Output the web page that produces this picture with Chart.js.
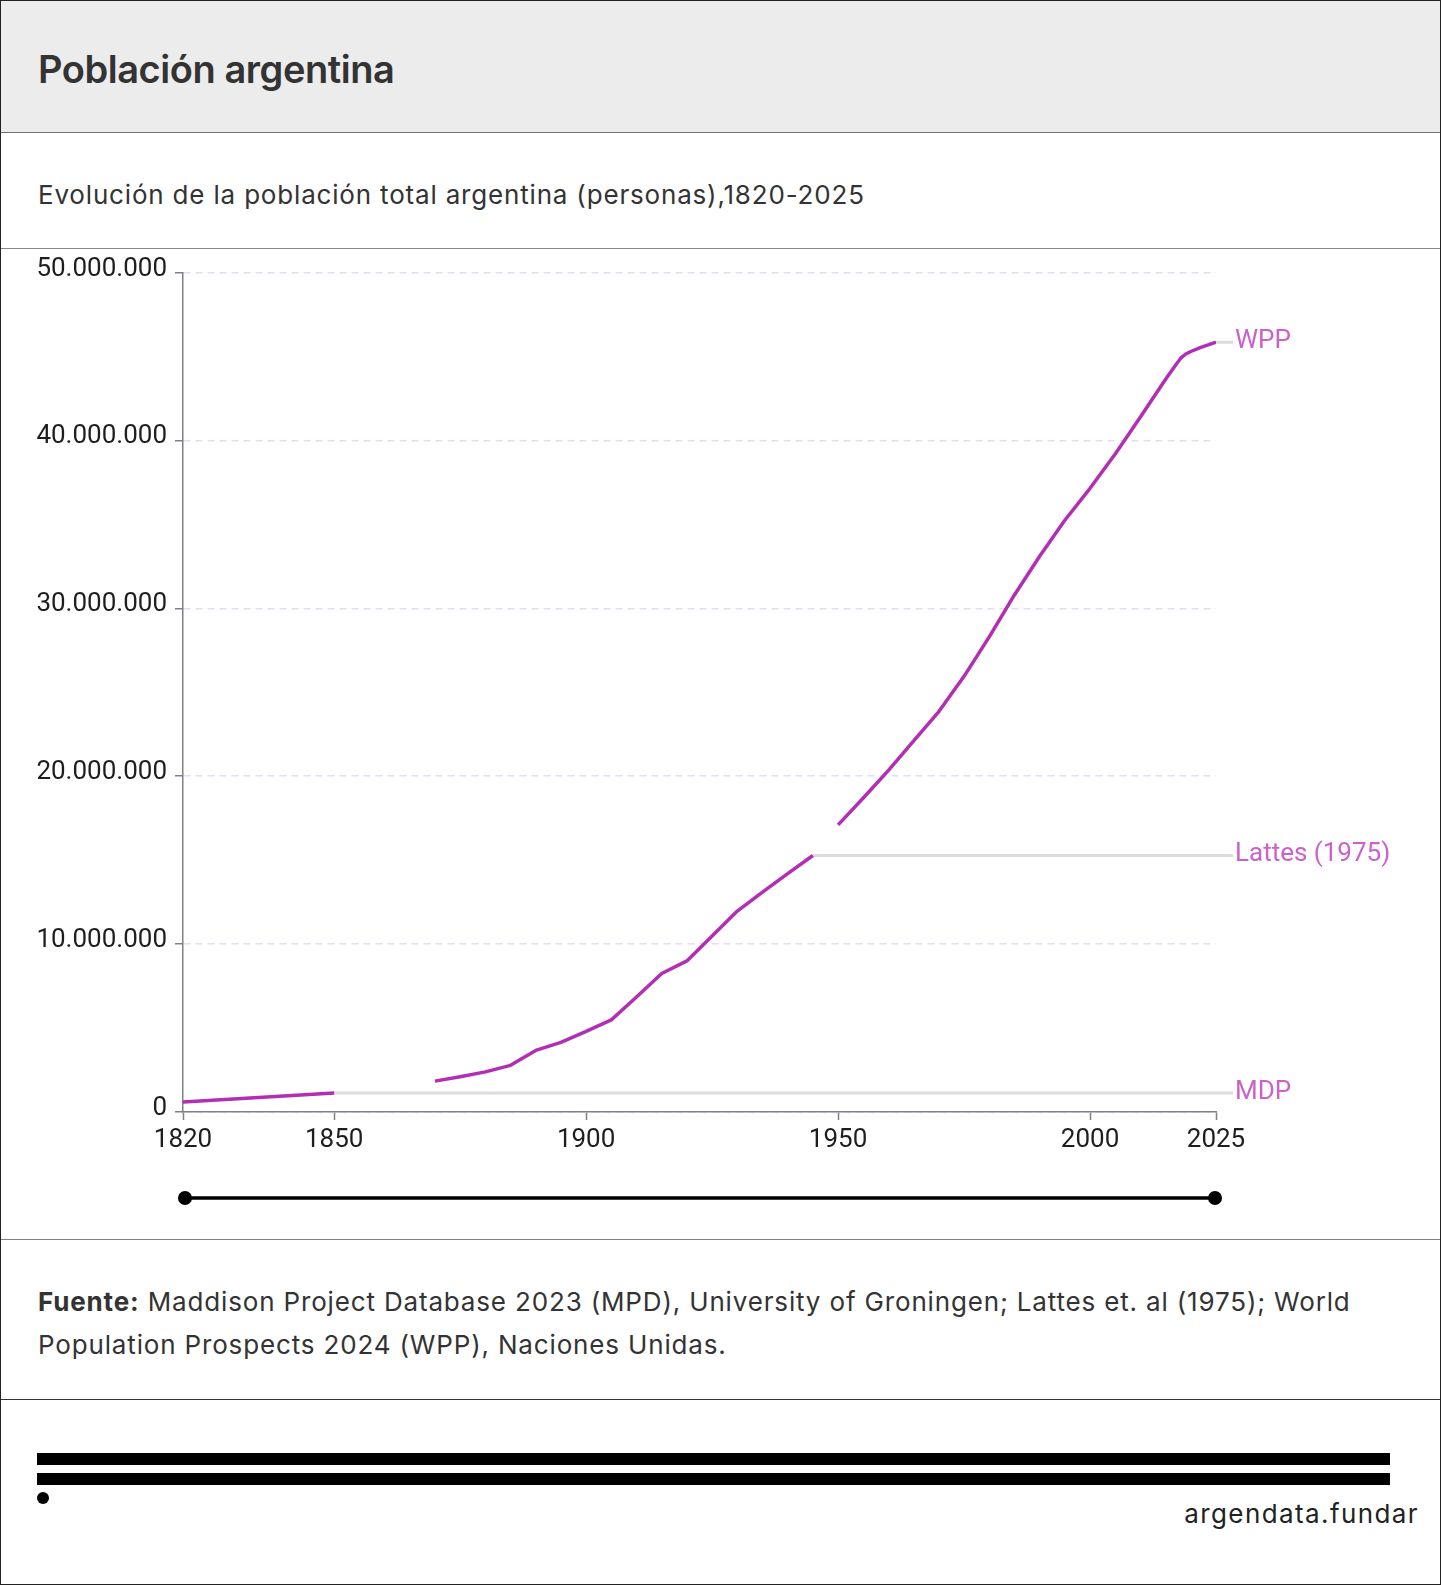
<!DOCTYPE html>
<html lang="es">
<head>
<meta charset="utf-8">
<title>Población argentina</title>
<script src="https://cdn.jsdelivr.net/npm/chart.js@4.4.1/dist/chart.umd.min.js"></script>
<style>
  html, body { margin: 0; padding: 0; background: #fff; }
  body { width: 1441px; height: 1585px; position: relative; overflow: hidden; font-family: Inter, "Noto Sans", sans-serif; color: #333; }
  .frame { position: absolute; left: 0; top: 0; width: 1441px; height: 1585px; box-sizing: border-box; border: 1px solid #222; pointer-events: none; z-index: 5; }
  .header { position: absolute; left: 0; top: 0; width: 1441px; height: 132px; background: #ececec; border-bottom: 1px solid #6f6f6f; }
  .title { position: absolute; left: 38px; top: 46px; font-size: 38px; font-weight: 600; line-height: normal; white-space: nowrap; color: #333; letter-spacing: -0.45px; }
  .subtitle { position: absolute; left: 38px; top: 179px; font-size: 26px; font-weight: 400; line-height: normal; white-space: nowrap; color: #333; letter-spacing: 0.82px; }
  .hline { position: absolute; left: 0; width: 1441px; height: 1px; }
  .source { position: absolute; left: 38px; top: 1280px; width: 1370px; font-size: 26px; line-height: 43.3px; color: #333; letter-spacing: 0.84px; }
  .source b { font-weight: 700; }
  .bar { position: absolute; left: 37px; width: 1353px; height: 12px; background: #000; }
  .dot { position: absolute; left: 37px; top: 1492px; width: 12px; height: 12px; border-radius: 50%; background: #000; }
  .brand { position: absolute; right: 22px; top: 1498px; font-size: 26px; line-height: normal; color: #222; letter-spacing: 1.4px; white-space: nowrap; }
  #chartWrap { position: absolute; left: 0; top: 249px; width: 1441px; height: 990px; }
</style>
</head>
<body>
<div class="header"><div class="title">Población argentina</div></div>
<div class="subtitle">Evolución de la población total argentina (personas),1820-2025</div>
<div class="hline" style="top:248px;background:#888;"></div>
<div id="chartWrap"><canvas id="chart" width="1441" height="990"></canvas></div>
<div class="hline" style="top:1239px;background:#808080;"></div>
<div class="source"><b>Fuente:</b> Maddison Project Database 2023 (MPD), University of Groningen; Lattes et. al (1975); World Population Prospects 2024 (WPP), Naciones Unidas.</div>
<div class="hline" style="top:1399px;background:#333;"></div>
<div class="bar" style="top:1453px;"></div>
<div class="bar" style="top:1473px;"></div>
<div class="dot"></div>
<div class="brand">argendata.fundar</div>
<div class="frame"></div>

<script>
// ---- Data (personas) ----
const mdpYears = [1820, 1830, 1840, 1850];
const mdpValues = [590000, 770000, 950000, 1130000];

const lattesYears = [1870, 1875, 1880, 1885, 1890, 1895, 1900, 1905, 1910, 1915, 1920, 1925, 1930, 1935, 1940, 1945];
const lattesValues = [1840000, 2100000, 2390000, 2780000, 3670000, 4150000, 4800000, 5490000, 6850000, 8250000, 9000000, 10480000, 11970000, 13100000, 14200000, 15280000];

const wppYears = [1950, 1955, 1960, 1965, 1970, 1975, 1980, 1985, 1990, 1995, 2000, 2005, 2010, 2015, 2017, 2018, 2019, 2020, 2022, 2025];
const wppValues = [17100000, 18700000, 20350000, 22100000, 23850000, 25950000, 28300000, 30800000, 33100000, 35250000, 37150000, 39200000, 41400000, 43650000, 44500000, 44900000, 45150000, 45300000, 45550000, 45850000];

const seriesNames = ['MDP', 'Lattes (1975)', 'WPP'];

const xTickValues = [1820, 1850, 1900, 1950, 2000, 2025];
const yTickValues = [0, 10000000, 20000000, 30000000, 40000000, 50000000];

// ---- Styling ----
const LINE_COLOR = '#b22eb4';
const LABEL_COLOR = '#cb62cb';
const AXIS_COLOR = '#7f7f88';
const GRID_COLOR = '#dce1f3';
const tickFont = { family: 'Roboto', size: 26, weight: '400' };

function toPoints(xs, ys) { return xs.map((x, i) => ({ x: x, y: ys[i] })); }
function fmtMiles(v) { return String(Math.round(v)).replace(/\B(?=(\d{3})+(?!\d))/g, '.'); }

const seriesData = [
  toPoints(mdpYears, mdpValues),
  toPoints(lattesYears, lattesValues),
  toPoints(wppYears, wppValues)
];

const endLabels = {
  id: 'endLabels',
  beforeDatasetsDraw(chart) {
    const { ctx, chartArea, scales: { x, y } } = chart;
    ctx.save();
    ctx.strokeStyle = '#dcdcdc';
    ctx.lineWidth = 3;
    chart.data.datasets.forEach(ds => {
      const last = ds.data[ds.data.length - 1];
      const py = y.getPixelForValue(last.y);
      ctx.beginPath();
      ctx.moveTo(x.getPixelForValue(last.x), py);
      ctx.lineTo(chartArea.right + 17, py);
      ctx.stroke();
    });
    ctx.restore();
  },
  afterDatasetsDraw(chart) {
    const { ctx, chartArea, scales: { x, y } } = chart;
    ctx.save();
    ctx.fillStyle = LABEL_COLOR;
    ctx.font = '400 26px Roboto';
    ctx.textAlign = 'left';
    ctx.textBaseline = 'middle';
    chart.data.datasets.forEach(ds => {
      const last = ds.data[ds.data.length - 1];
      const py = y.getPixelForValue(last.y);
      ctx.fillText(ds.label, chartArea.right + 19, py - 1);
    });
    // range slider
    const sy = chartArea.bottom + 86;
    const x0 = x.getPixelForValue(xTickValues[0]) + 2;
    const x1 = x.getPixelForValue(xTickValues[xTickValues.length - 1]) - 1;
    ctx.strokeStyle = '#000';
    ctx.lineWidth = 3.5;
    ctx.beginPath();
    ctx.moveTo(x0, sy);
    ctx.lineTo(x1, sy);
    ctx.stroke();
    ctx.fillStyle = '#000';
    [x0, x1].forEach(px => { ctx.beginPath(); ctx.arc(px, sy, 7, 0, Math.PI * 2); ctx.fill(); });
    ctx.restore();
  }
};

new Chart(document.getElementById('chart'), {
  type: 'line',
  data: {
    datasets: seriesData.map((d, i) => ({
      label: seriesNames[i],
      data: d,
      borderColor: LINE_COLOR,
      backgroundColor: LINE_COLOR,
      borderWidth: 3.5,
      pointRadius: 0,
      tension: 0,
      fill: false,
      borderJoinStyle: 'round'
    }))
  },
  options: {
    responsive: false,
    animation: false,
    devicePixelRatio: 1,
    layout: { padding: { top: 19, right: 225, bottom: 0, left: 0 } },
    plugins: { legend: { display: false }, tooltip: { enabled: false } },
    scales: {
      x: {
        type: 'linear',
        min: 1820,
        max: 2025,
        afterBuildTicks: s => { s.ticks = xTickValues.map(v => ({ value: v })); },
        afterFit: s => { s.height = 127; },
        ticks: { callback: v => String(v), font: tickFont, color: '#1e1e1e', padding: 5, maxRotation: 0, autoSkip: false },
        grid: { drawOnChartArea: false, drawTicks: true, tickLength: 8, tickColor: AXIS_COLOR, tickWidth: 1.5 },
        border: { display: true, color: AXIS_COLOR, width: 1.5 }
      },
      y: {
        type: 'linear',
        min: 0,
        max: 50000000,
        afterBuildTicks: s => { s.ticks = yTickValues.map(v => ({ value: v })); },
        afterFit: s => { s.width = 183; },
        ticks: { callback: v => fmtMiles(v), font: tickFont, color: '#1e1e1e', padding: 8, labelOffset: -3.5 },
        grid: { color: GRID_COLOR, lineWidth: 1.5, drawTicks: true, tickLength: 8, tickColor: AXIS_COLOR, tickWidth: 1.5 },
        border: { display: true, color: AXIS_COLOR, width: 1.5, dash: [7, 5] }
      }
    }
  },
  plugins: [endLabels]
});
</script>
</body>
</html>
